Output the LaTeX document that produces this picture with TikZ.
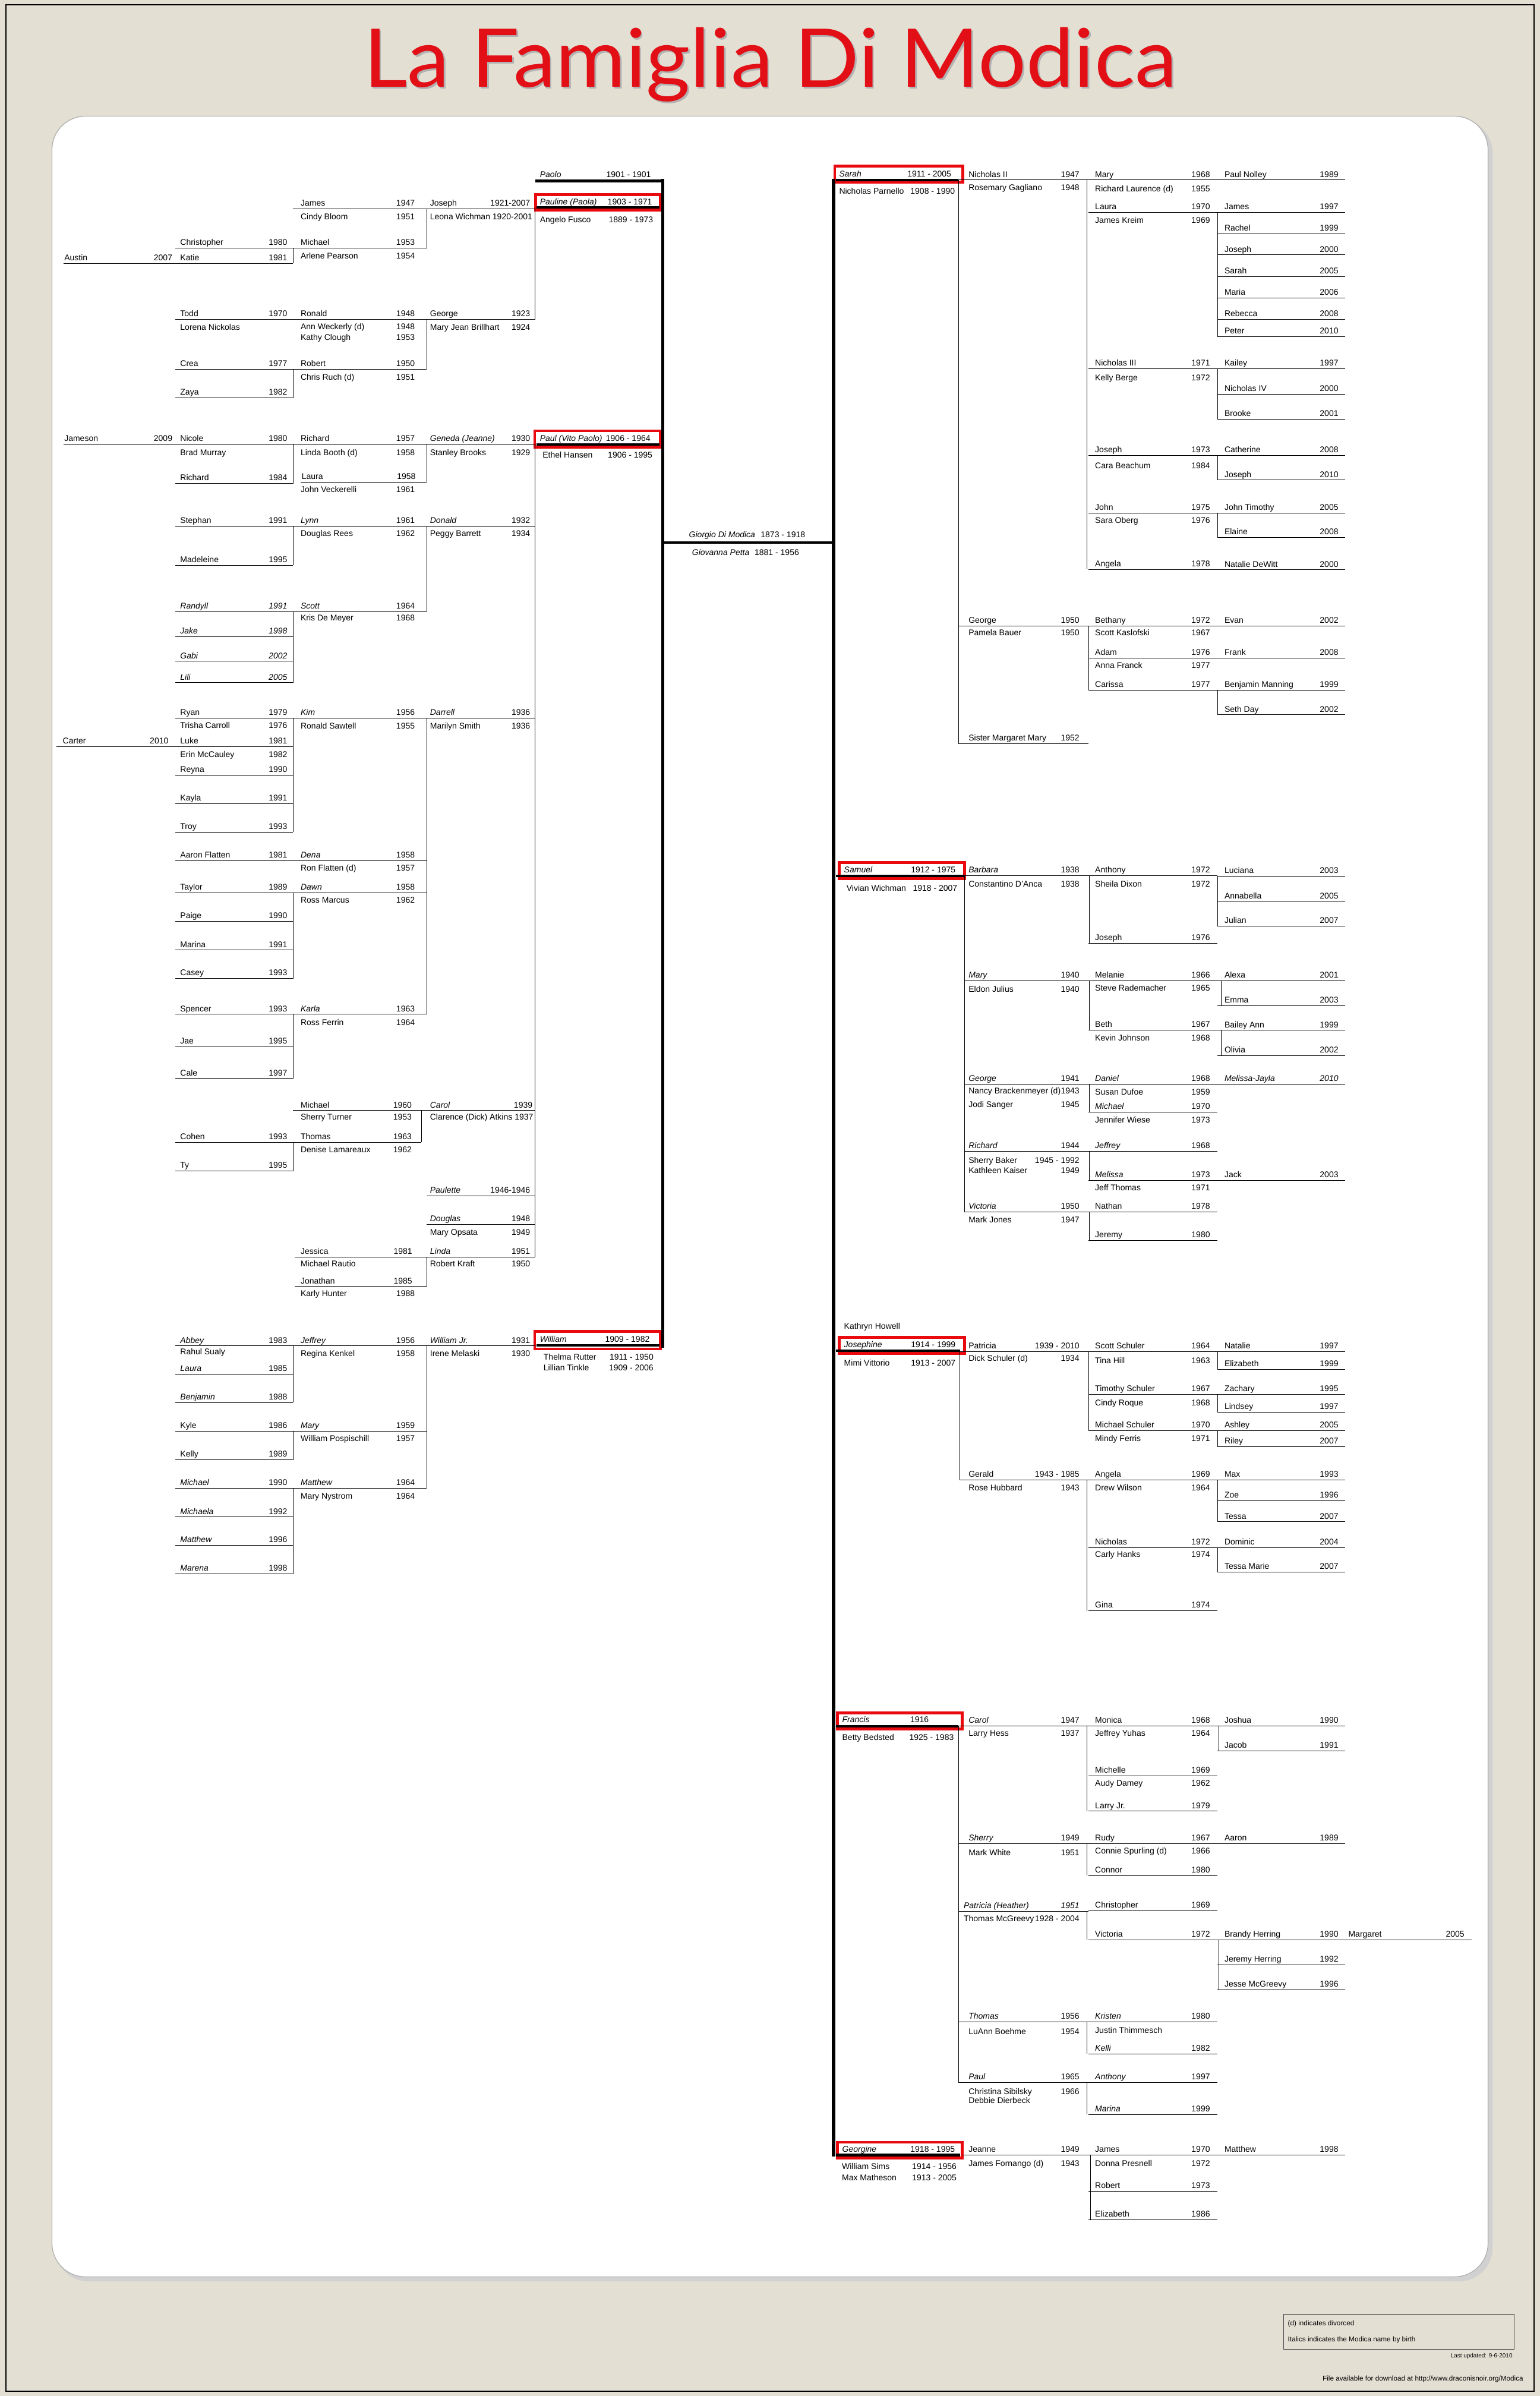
\documentclass[tikz,border=0pt]{standalone}
\usepackage{fontspec}
\setmainfont{Liberation Sans}
\newfontfamily\titlefont{Lato}
\definecolor{beige}{RGB}{228,223,211}
\definecolor{tred}{RGB}{226,16,22}
\definecolor{boxred}{RGB}{232,10,15}
\newcounter{nd}
\tikzset{
 tx/.style={inner sep=0pt,outer sep=0pt,font=\fontsize{15.5}{18}\selectfont},
 sm/.style={inner sep=0pt,outer sep=0pt,font=\fontsize{13}{15}\selectfont},
 ln/.style={line width=1.1pt},
 thk/.style={line width=6.5pt},
 gl/.style={line width=4pt},
 rb/.style={draw=boxred,line width=5.3pt},
 ul/.style={line width=4.5pt}
}
\newcommand\itx[1]{\textit{#1}}
\newcommand\famT[4]{\stepcounter{nd}\node[tx,anchor=#1,name=n\arabic{nd}] at (#2,#3) {#4};}
\newcommand\ent[7]{\draw[ln] (#1,#3)--(#2,#3);\famT{base west}{#4}{#3-1.9}{#6}\famT{base east}{#5}{#3-1.9}{#7}}
\newcommand\sq[5]{\famT{base west}{#1}{#3}{#4}\famT{base east}{#2}{#3}{#5}}
\newcommand\vl[3]{\draw[ln] (#1,#2)--(#1,#3);}
\newcommand\famBox[7]{\draw[rb] (#1,#3) rectangle (#2,#4);\draw[ul] (#6,#5)--(#7,#5);}
\newcommand\pLZ[3]{\ent{41.5}{114.7}{#1}{42.1}{112.8}{#2}{#3}}
\newcommand\pLA[3]{\ent{114.7}{191.8}{#1}{118.0}{188.0}{#2}{#3}}
\newcommand\sLA[3]{\sq{118.0}{188.0}{#1}{#2}{#3}}
\newcommand\pLB[3]{\ent{191.8}{279.3}{#1}{196.8}{271.5}{#2}{#3}}
\newcommand\sLB[3]{\sq{196.8}{271.5}{#1}{#2}{#3}}
\newcommand\pLC[3]{\ent{279.3}{350.2}{#1}{281.5}{347.0}{#2}{#3}}
\newcommand\sLC[3]{\sq{281.5}{347.0}{#1}{#2}{#3}}
\newcommand\pRA[4]{\ent{#1}{712.5}{#2}{634.0}{706.5}{#3}{#4}}
\newcommand\sRA[3]{\sq{634.0}{706.5}{#1}{#2}{#3}}
\newcommand\pRB[3]{\ent{712.5}{797.0}{#1}{716.8}{792.0}{#2}{#3}}
\newcommand\sRB[3]{\sq{716.8}{792.0}{#1}{#2}{#3}}
\newcommand\pRC[3]{\ent{797.0}{880.5}{#1}{801.5}{876.0}{#2}{#3}}
\begin{document}
\begin{tikzpicture}[x=0.1cm,y=-0.1cm]
\fill[beige] (0,0) rectangle (1008,1568);
\useasboundingbox (0,0) rectangle (1008,1568);
\draw[line width=2.5pt] (4,3) rectangle (1004,1565);
% panel
\fill[black!18,rounded corners=2.2cm] (36,78) rectangle (977,1493);
\draw[fill=white,draw=black!30,line width=1.5pt,rounded corners=2.2cm] (34,76) rectangle (974,1490);
% title
\node[anchor=base west,inner sep=0,text=black!30] (tsh) at (239.0,58.0) {\resizebox{53.2cm}{3.9cm}{\titlefont La Famiglia Di Modica}};
\node[anchor=base west,inner sep=0,text=tred] (title) at (238,57) {\resizebox{53.2cm}{3.9cm}{\titlefont La Famiglia Di Modica}};

% ================= LEFT =================
\draw[thk] (350.5,118.4)--(433.8,118.4);
\famT{base west}{353.4}{116.0}{\itx{Paolo}}
\famT{base east}{426.0}{116.0}{1901 - 1901}
\famBox{350.7}{432.2}{127.5}{137.5}{135.9}{351.1}{431.5}
\famT{base west}{353.4}{133.8}{\itx{Pauline (Paola)}}
\famT{base east}{426.8}{133.8}{1903 - 1971}
\sq{353.4}{427.5}{145.8}{Angelo Fusco}{1889 - 1973}
\famBox{350.0}{432.2}{281.9}{292.5}{290.9}{351.1}{431.5}
\famT{base west}{353.4}{288.6}{\itx{Paul (Vito Paolo)}}
\famT{base east}{425.7}{288.6}{1906 - 1964}
\sq{355.2}{427.0}{299.6}{Ethel Hansen}{1906 - 1995}
\famBox{350.0}{432.2}{871.4}{882.8}{880.6}{351.1}{431.5}
\famT{base west}{353.4}{878.4}{\itx{William}}
\famT{base east}{425.2}{878.4}{1909 - 1982}
\sq{355.8}{427.7}{889.9}{Thelma Rutter}{1911 - 1950}
\sq{355.8}{427.7}{896.8}{Lillian Tinkle}{1909 - 2006}
\draw[thk] (433.8,117.2)--(433.8,882);
\vl{350.2}{135.9}{209.0}
\vl{350.2}{290.9}{822.7}

% L3
\pLC{136.5}{Joseph}{1921-2007}
\famT{base west}{281.5}{143.7}{Leona Wichman 1920-2001}
\pLC{209.0}{George}{1923}
\sLC{216.2}{Mary Jean Brillhart}{1924}
\pLC{290.7}{\itx{Geneda (Jeanne)}}{1930}
\sLC{297.9}{Stanley Brooks}{1929}
\pLC{344.5}{\itx{Donald}}{1932}
\sLC{350.8}{Peggy Barrett}{1934}
\pLC{470.0}{\itx{Darrell}}{1936}
\sLC{477.0}{Marilyn Smith}{1936}
\ent{275.9}{350.2}{726.8}{281.5}{348.5}{\itx{Carol}}{1939}
\famT{base west}{281.5}{732.8}{Clarence (Dick) Atkins 1937}
\pLC{782.7}{\itx{Paulette}}{1946-1946}
\pLC{801.4}{\itx{Douglas}}{1948}
\sLC{808.2}{Mary Opsata}{1949}
\pLC{822.7}{\itx{Linda}}{1951}
\sLC{828.9}{Robert Kraft}{1950}
\pLC{880.8}{\itx{William Jr.}}{1931}
\sLC{887.5}{Irene Melaski}{1930}
\vl{279.3}{136.5}{162.4}
\vl{279.3}{209.0}{241.5}
\vl{279.3}{290.7}{315.4}
\vl{279.3}{344.5}{400.3}
\vl{279.3}{470.0}{663.8}
\vl{275.9}{726.8}{747.6}
\vl{279.3}{822.7}{841.9}
\vl{279.3}{880.8}{973.8}

% L2
\pLB{136.5}{James}{1947}
\sLB{143.7}{Cindy Bloom}{1951}
\pLB{162.4}{Michael}{1953}
\sLB{169.5}{Arlene Pearson}{1954}
\pLB{209.0}{Ronald}{1948}
\sLB{215.8}{Ann Weckerly (d)}{1948}
\sLB{222.8}{Kathy Clough}{1953}
\pLB{241.5}{Robert}{1950}
\sLB{248.5}{Chris Ruch (d)}{1951}
\pLB{290.7}{Richard}{1957}
\sLB{297.9}{Linda Booth (d)}{1958}
\ent{196.9}{279.3}{315.4}{197.5}{272.0}{Laura}{1958}
\sLB{322.0}{John Veckerelli}{1961}
\pLB{344.5}{\itx{Lynn}}{1961}
\sLB{351.0}{Douglas Rees}{1962}
\pLB{400.3}{\itx{Scott}}{1964}
\sLB{406.0}{Kris De Meyer}{1968}
\pLB{470.0}{\itx{Kim}}{1956}
\sLB{477.0}{Ronald Sawtell}{1955}
\pLB{563.3}{\itx{Dena}}{1958}
\sLB{570.1}{Ron Flatten (d)}{1957}
\pLB{584.3}{\itx{Dawn}}{1958}
\sLB{591.1}{Ross Marcus}{1962}
\pLB{663.8}{\itx{Karla}}{1963}
\sLB{671.0}{Ross Ferrin}{1964}
\ent{191.8}{275.9}{726.8}{196.8}{269.5}{Michael}{1960}
\sq{196.8}{269.5}{732.8}{Sherry Turner}{1953}
\ent{191.8}{275.9}{747.6}{196.8}{269.5}{Thomas}{1963}
\sq{196.8}{269.5}{754.4}{Denise Lamareaux}{1962}
\ent{192.9}{279.3}{822.7}{196.8}{269.8}{Jessica}{1981}
\sLB{828.9}{Michael Rautio}{}
\ent{192.9}{279.3}{841.9}{196.8}{269.8}{Jonathan}{1985}
\sLB{848.3}{Karly Hunter}{1988}
\pLB{880.8}{\itx{Jeffrey}}{1956}
\sLB{887.5}{Regina Kenkel}{1958}
\pLB{936.5}{\itx{Mary}}{1959}
\sLB{943.3}{William Pospischill}{1957}
\pLB{973.8}{\itx{Matthew}}{1964}
\sLB{980.8}{Mary Nystrom}{1964}
\vl{191.8}{162.4}{172.3}
\vl{191.8}{241.5}{260.5}
\vl{191.8}{290.7}{316.5}
\vl{191.8}{344.5}{370.0}
\vl{191.8}{400.3}{446.8}
\vl{191.8}{470.0}{544.6}
\vl{191.8}{584.3}{640.3}
\vl{191.8}{663.8}{705.8}
\vl{191.8}{747.6}{766.4}
\vl{191.8}{880.8}{917.9}
\vl{191.8}{936.5}{955.3}
\vl{191.8}{973.8}{1030.1}

% L1
\pLA{162.4}{Christopher}{1980}
\pLA{172.3}{Katie}{1981}
\pLA{209.0}{Todd}{1970}
\sLA{216.0}{Lorena Nickolas}{}
\pLA{241.5}{Crea}{1977}
\pLA{260.5}{Zaya}{1982}
\pLA{290.7}{Nicole}{1980}
\sLA{298.0}{Brad Murray}{}
\pLA{316.5}{Richard}{1984}
\pLA{344.5}{Stephan}{1991}
\pLA{370.0}{Madeleine}{1995}
\pLA{400.3}{\itx{Randyll}}{\itx{1991}}
\pLA{416.5}{\itx{Jake}}{\itx{1998}}
\pLA{432.8}{\itx{Gabi}}{\itx{2002}}
\pLA{446.8}{\itx{Lili}}{\itx{2005}}
\pLA{470.0}{Ryan}{1979}
\sLA{476.6}{Trisha Carroll}{1976}
\pLA{488.6}{Luke}{1981}
\sLA{495.6}{Erin McCauley}{1982}
\pLA{507.3}{Reyna}{1990}
\pLA{525.8}{Kayla}{1991}
\pLA{544.6}{Troy}{1993}
\pLA{563.3}{Aaron Flatten}{1981}
\pLA{584.3}{Taylor}{1989}
\pLA{603.0}{Paige}{1990}
\pLA{621.8}{Marina}{1991}
\pLA{640.3}{Casey}{1993}
\pLA{663.8}{Spencer}{1993}
\pLA{684.8}{Jae}{1995}
\pLA{705.8}{Cale}{1997}
\pLA{747.6}{Cohen}{1993}
\pLA{766.4}{Ty}{1995}
\pLA{880.8}{\itx{Abbey}}{1983}
\sLA{886.6}{Rahul Sualy}{}
\pLA{899.3}{\itx{Laura}}{1985}
\pLA{917.9}{\itx{Benjamin}}{1988}
\pLA{936.5}{Kyle}{1986}
\pLA{955.3}{Kelly}{1989}
\pLA{973.8}{\itx{Michael}}{1990}
\pLA{992.8}{\itx{Michaela}}{1992}
\pLA{1011.4}{\itx{Matthew}}{1996}
\pLA{1030.1}{\itx{Marena}}{1998}

% L0
\pLZ{172.3}{Austin}{2007}
\pLZ{290.7}{Jameson}{2009}
\ent{36.9}{114.7}{488.6}{41.1}{110.2}{Carter}{2010}

% ================= CENTER =================
\draw[gl] (433.8,355)--(545.6,355);
\sq{451}{527}{351.8}{\itx{Giorgio Di Modica}}{1873 - 1918}
\sq{453}{523}{363.3}{\itx{Giovanna Petta}}{1881 - 1956}

% ================= RIGHT =================
\famBox{546.4}{630.3}{108.8}{119.2}{117.8}{547.2}{627.3}
\famBox{549.2}{631.3}{564.4}{575.1}{573.1}{547.2}{631.2}
\famBox{549.2}{631.3}{875.2}{885.6}{883.9}{547.2}{628.4}
\famBox{548.1}{629.9}{1121.0}{1131.6}{1129.6}{547.2}{627.3}
\famBox{548.1}{629.9}{1401.9}{1412.2}{1410.3}{547.2}{628.4}
\draw[thk] (545.6,117.0)--(545.6,1411.4);
\famT{base west}{549.3}{115.6}{\itx{Sarah}}
\famT{base east}{622.6}{115.6}{1911 - 2005}
\sq{549.3}{625.0}{127.1}{Nicholas Parnello}{1908 - 1990}
\famT{base west}{552.5}{571.0}{\itx{Samuel}}
\famT{base east}{625.4}{571.0}{1912 - 1975}
\sq{554.1}{626.6}{583.2}{Vivian Wichman}{1918 - 2007}
\famT{base west}{552.5}{869.9}{Kathryn Howell}
\famT{base west}{552.5}{881.8}{\itx{Josephine}}
\famT{base east}{625.4}{881.8}{1914 - 1999}
\sq{552.5}{625.4}{893.7}{Mimi Vittorio}{1913 - 2007}
\famT{base west}{551.3}{1127.3}{\itx{Francis}}
\famT{base east}{607.9}{1127.3}{1916}
\sq{551.3}{624.3}{1138.9}{Betty Bedsted}{1925 - 1983}
\famT{base west}{551.3}{1408.2}{\itx{Georgine}}
\famT{base east}{625.0}{1408.2}{1918 - 1995}
\sq{551.1}{626.1}{1419.8}{William Sims}{1914 - 1956}
\sq{551.1}{626.1}{1427.1}{Max Matheson}{1913 - 2005}

\vl{627.3}{117.8}{486.6}
\vl{631.2}{573.1}{793.0}
\vl{628.2}{883.9}{968.6}
\vl{627.3}{1129.6}{1362.7}

% R1
\pRA{627.3}{117.8}{Nicholas II}{1947}
\sRA{124.7}{Rosemary Gagliano}{1948}
\pRA{627.3}{409.7}{George}{1950}
\sRA{416.1}{Pamela Bauer}{1950}
\pRA{627.3}{486.6}{Sister Margaret Mary}{1952}
\pRA{631.2}{573.1}{\itx{Barbara}}{1938}
\sRA{580.3}{Constantino D'Anca}{1938}
\pRA{631.2}{641.8}{\itx{Mary}}{1940}
\sRA{649.1}{Eldon Julius}{1940}
\pRA{631.2}{709.5}{\itx{George}}{1941}
\sRA{715.8}{Nancy Brackenmeyer (d)}{1943}
\sRA{724.8}{Jodi Sanger}{1945}
\pRA{631.2}{753.6}{\itx{Richard}}{1944}
\sRA{761.1}{Sherry Baker}{1945 - 1992}
\sRA{767.8}{Kathleen Kaiser}{1949}
\pRA{631.2}{793.0}{\itx{Victoria}}{1950}
\sRA{800.3}{Mark Jones}{1947}
\pRA{628.2}{884.4}{Patricia}{1939 - 2010}
\sRA{890.8}{Dick Schuler (d)}{1934}
\pRA{628.2}{968.6}{Gerald}{1943 - 1985}
\sRA{975.6}{Rose Hubbard}{1943}
\pRA{627.3}{1129.6}{\itx{Carol}}{1947}
\sRA{1136.3}{Larry Hess}{1937}
\pRA{627.3}{1206.5}{\itx{Sherry}}{1949}
\sRA{1214.1}{Mark White}{1951}
\ent{627.3}{712.5}{1250.9}{630.8}{706.5}{\itx{Patricia (Heather)}}{\itx{1951}}
\sq{630.8}{706.5}{1257.6}{Thomas McGreevy}{1928 - 2004}
\pRA{627.3}{1323.2}{\itx{Thomas}}{1956}
\sRA{1331.3}{LuAnn Boehme}{1954}
\pRA{627.3}{1362.7}{\itx{Paul}}{1965}
\sRA{1370.5}{Christina Sibilsky}{1966}
\sRA{1376.3}{Debbie Dierbeck}{}
\pRA{630.0}{1410.3}{Jeanne}{1949}
\sRA{1417.5}{James Fornango (d)}{1943}

% R2 verticals
\vl{711.4}{117.8}{372.6}
\vl{712.5}{409.7}{451.5}
\vl{712.9}{573.1}{617.5}
\vl{712.9}{641.8}{674.0}
\vl{712.9}{709.5}{727.7}
\vl{712.9}{753.6}{772.4}
\vl{712.9}{793.0}{811.9}
\vl{712.5}{884.4}{936.1}
\vl{711.4}{968.6}{1054.2}
\vl{711.4}{1129.6}{1185.3}
\vl{711.4}{1206.5}{1227.4}
\vl{711.4}{1250.6}{1269.5}
\vl{711.4}{1323.2}{1344.1}
\vl{711.4}{1362.7}{1383.8}
\vl{713.9}{1410.3}{1452.6}

% R2
\pRB{117.8}{Mary}{1968}
\sRB{125.3}{Richard Laurence (d)}{1955}
\pRB{139.0}{Laura}{1970}
\sRB{145.9}{James Kreim}{1969}
\pRB{241.4}{Nicholas III}{1971}
\sRB{248.9}{Kelly Berge}{1972}
\pRB{298.0}{Joseph}{1973}
\sRB{306.5}{Cara Beachum}{1984}
\pRB{335.7}{John}{1975}
\sRB{342.5}{Sara Oberg}{1976}
\pRB{372.6}{Angela}{1978}
\pRB{409.7}{Bethany}{1972}
\sRB{416.1}{Scott Kaslofski}{1967}
\pRB{430.6}{Adam}{1976}
\sRB{437.3}{Anna Franck}{1977}
\pRB{451.5}{Carissa}{1977}
\pRB{573.1}{Anthony}{1972}
\sRB{580.3}{Sheila Dixon}{1972}
\pRB{617.5}{Joseph}{1976}
\pRB{641.8}{Melanie}{1966}
\sRB{648.5}{Steve Rademacher}{1965}
\pRB{674.0}{Beth}{1967}
\sRB{681.0}{Kevin Johnson}{1968}
\pRB{709.5}{\itx{Daniel}}{1968}
\sRB{716.5}{Susan Dufoe}{1959}
\pRB{727.7}{\itx{Michael}}{1970}
\sRB{734.7}{Jennifer Wiese}{1973}
\pRB{753.6}{\itx{Jeffrey}}{1968}
\pRB{772.4}{\itx{Melissa}}{1973}
\sRB{779.1}{Jeff Thomas}{1971}
\pRB{793.0}{Nathan}{1978}
\pRB{811.9}{Jeremy}{1980}
\pRB{884.4}{Scott Schuler}{1964}
\sRB{892.3}{Tina Hill}{1963}
\pRB{912.6}{Timothy Schuler}{1967}
\sRB{919.9}{Cindy Roque}{1968}
\pRB{936.1}{Michael Schuler}{1970}
\sRB{943.1}{Mindy Ferris}{1971}
\pRB{968.6}{Angela}{1969}
\sRB{975.6}{Drew Wilson}{1964}
\pRB{1012.7}{Nicholas}{1972}
\sRB{1019.0}{Carly Hanks}{1974}
\pRB{1054.2}{Gina}{1974}
\pRB{1129.6}{Monica}{1968}
\sRB{1136.3}{Jeffrey Yuhas}{1964}
\pRB{1162.1}{Michelle}{1969}
\sRB{1168.8}{Audy Damey}{1962}
\pRB{1185.3}{Larry Jr.}{1979}
\pRB{1206.5}{Rudy}{1967}
\sRB{1213.2}{Connie Spurling (d)}{1966}
\pRB{1227.4}{Connor}{1980}
\pRB{1250.6}{Christopher}{1969}
\pRB{1269.5}{Victoria}{1972}
\pRB{1323.2}{\itx{Kristen}}{1980}
\sRB{1330.5}{Justin Thimmesch}{}
\pRB{1344.1}{\itx{Kelli}}{1982}
\pRB{1362.7}{\itx{Anthony}}{1997}
\pRB{1383.8}{\itx{Marina}}{1999}
\pRB{1410.3}{James}{1970}
\sRB{1417.5}{Donna Presnell}{1972}
\pRB{1434.0}{Robert}{1973}
\pRB{1452.6}{Elizabeth}{1986}

% R3 verticals
\vl{797}{139.0}{220.2}
\vl{797}{241.4}{274.2}
\vl{797}{298.0}{314.2}
\vl{797}{335.7}{351.7}
\vl{797}{451.5}{467.8}
\vl{797}{573.3}{605.9}
\vl{799.3}{641.8}{658.1}
\vl{799.3}{674.3}{690.9}
\vl{797}{884.4}{896.0}
\vl{797}{912.6}{924.2}
\vl{797}{936.1}{946.8}
\vl{797}{968.6}{995.9}
\vl{797}{1012.7}{1028.6}
\vl{797.8}{1129.6}{1145.9}
\vl{797.8}{1269.5}{1302.0}

% R3
\pRC{117.8}{Paul Nolley}{1989}
\pRC{139.0}{James}{1997}
\pRC{152.9}{Rachel}{1999}
\pRC{166.8}{Joseph}{2000}
\pRC{181.0}{Sarah}{2005}
\pRC{195.0}{Maria}{2006}
\pRC{208.9}{Rebecca}{2008}
\pRC{220.2}{Peter}{2010}
\pRC{241.4}{Kailey}{1997}
\pRC{257.9}{Nicholas IV}{2000}
\pRC{274.2}{Brooke}{2001}
\pRC{298.0}{Catherine}{2008}
\pRC{314.2}{Joseph}{2010}
\pRC{335.7}{John Timothy}{2005}
\pRC{351.7}{Elaine}{2008}
\pRC{372.9}{Natalie DeWitt}{2000}
\pRC{409.7}{Evan}{2002}
\pRC{430.6}{Frank}{2008}
\pRC{451.5}{Benjamin Manning}{1999}
\pRC{467.8}{Seth Day}{2002}
\pRC{573.3}{Luciana}{2003}
\pRC{589.9}{Annabella}{2005}
\pRC{605.9}{Julian}{2007}
\pRC{641.8}{Alexa}{2001}
\pRC{658.1}{Emma}{2003}
\pRC{674.3}{Bailey Ann}{1999}
\pRC{690.9}{Olivia}{2002}
\pRC{709.5}{\itx{Melissa-Jayla}}{\itx{2010}}
\pRC{772.4}{Jack}{2003}
\pRC{884.4}{Natalie}{1997}
\pRC{896.0}{Elizabeth}{1999}
\pRC{912.6}{Zachary}{1995}
\pRC{924.2}{Lindsey}{1997}
\pRC{936.1}{Ashley}{2005}
\pRC{946.8}{Riley}{2007}
\pRC{968.6}{Max}{1993}
\pRC{982.2}{Zoe}{1996}
\pRC{995.9}{Tessa}{2007}
\pRC{1012.7}{Dominic}{2004}
\pRC{1028.6}{Tessa Marie}{2007}
\pRC{1129.6}{Joshua}{1990}
\pRC{1145.9}{Jacob}{1991}
\pRC{1206.5}{Aaron}{1989}
\pRC{1269.5}{Brandy Herring}{1990}
\pRC{1285.8}{Jeremy Herring}{1992}
\pRC{1302.0}{Jesse McGreevy}{1996}
\pRC{1410.3}{Matthew}{1998}
\ent{880.5}{963.2}{1269.5}{882.6}{958.5}{Margaret}{2005}

% ================= FOOTER =================
\draw[line width=1pt,draw=black!70] (840,1514.5) rectangle (991,1537.5);
\node[sm,anchor=base west] (f1) at (843,1522) {(d) indicates divorced};
\node[sm,anchor=base west] (f2) at (843,1532.5) {Italics indicates the Modica name by birth};
\node[inner sep=0,anchor=base east,font=\fontsize{11}{13}\selectfont] (f3) at (990,1543) {Last updated: 9-6-2010};
\node[sm,anchor=base east] (f4) at (997,1558) {File available for download at http://www.draconisnoir.org/Modica};
\end{tikzpicture}
\end{document}
